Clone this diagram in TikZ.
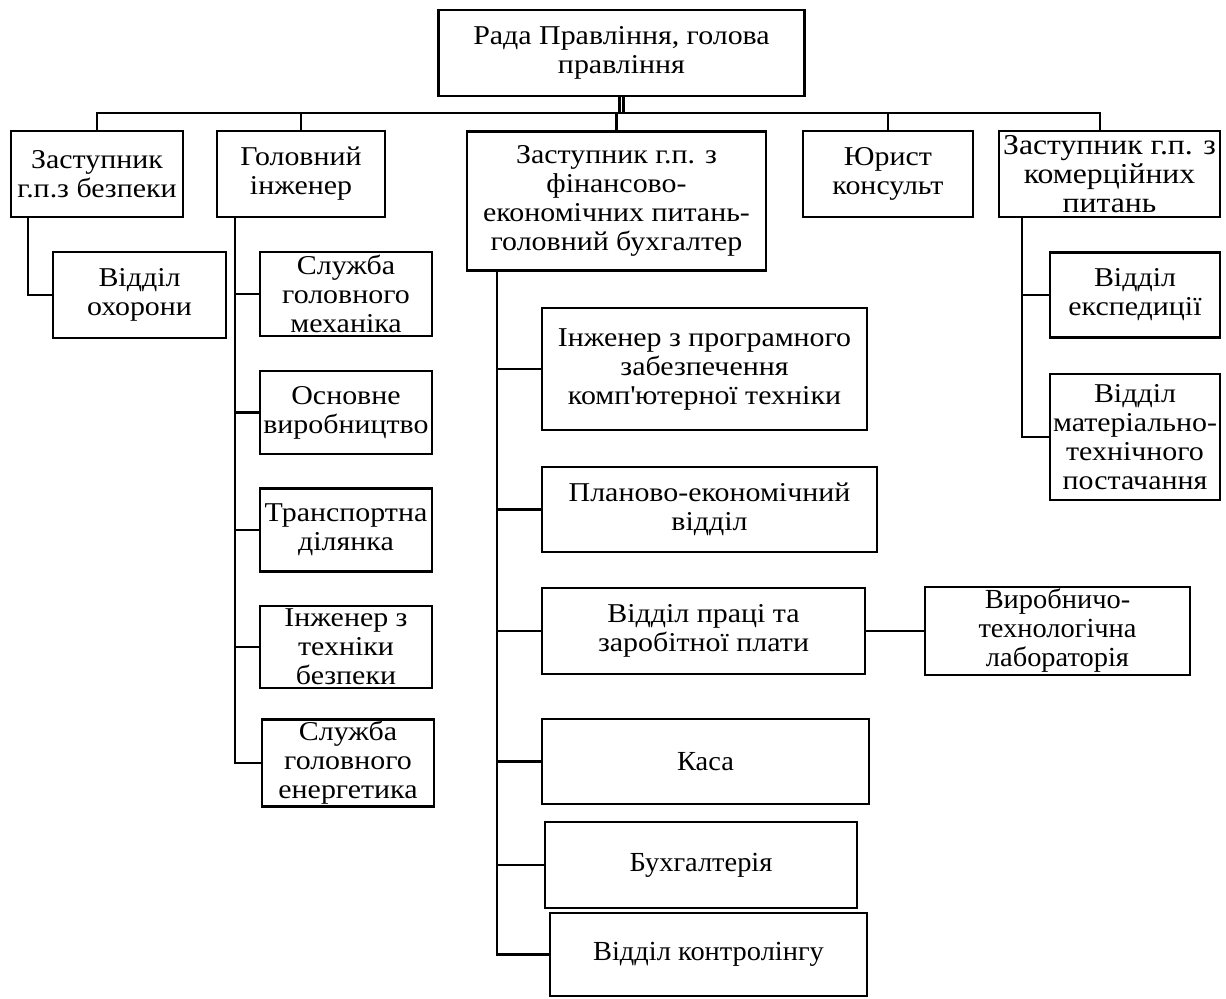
\documentclass[tikz,border=0pt]{standalone}
\usepackage{fontspec}
\setmainfont{Liberation Serif}[FakeStretch=1.1]
\newfontfamily\plainfont{Liberation Serif}[FakeStretch=1.03]
\usepackage{tikz}

\tikzset{
	box/.style={draw, line width=1.3pt, align=center, inner sep=1pt, font=\fontsize{13.6}{14.5}\selectfont},
	plainbox/.style={box, font=\plainfont\fontsize{13.8}{14.5}\selectfont},
	link/.style={line width=1.3pt}
}

\begin{document}
\begin{tikzpicture}[x=0.5pt, y=-0.5pt]
		\useasboundingbox (0,0) rectangle (1226,998);
		\node[box, minimum width=183pt, minimum height=43pt] (rada) at (621.5,53){Рада Правління, голова\\правління};
		\node[box, minimum width=86pt, minimum height=43pt] (zbez) at (97,174){Заступник\\г.п.з безпеки};
		\node[box, minimum width=84pt, minimum height=43pt] (golinzh) at (301,174){Головний\\інженер};
		\node[box, minimum width=149.5pt, minimum height=69.5pt] (zfin) at (616.5,201){Заступник г.п. з\\фінансово-\\економічних питань-\\головний бухгалтер};
		\node[box, minimum width=85pt, minimum height=43pt] (jurist) at (888,174){Юрист\\консульт};
		\node[box, minimum width=110.5pt, minimum height=43pt, font=\fontsize{14.4}{14.5}\selectfont] (zkom) at (1109.5,174){Заступник г.п. з\\комерційних\\питань};
		\node[box, minimum width=86.5pt, minimum height=43pt] (ohorona) at (139.5,295){Відділ\\охорони};
		\node[box, minimum width=86pt, minimum height=42pt] (mehanik) at (346,294){Служба\\головного\\механіка};
		\node[box, minimum width=86pt, minimum height=41.5pt] (vyrob) at (346,412.5){Основне\\виробництво};
		\node[box, minimum width=86pt, minimum height=41.5pt] (transp) at (346,530){Транспортна\\ділянка};
		\node[box, minimum width=86pt, minimum height=41pt] (tbez) at (346,647){Інженер з\\техніки\\безпеки};
		\node[box, minimum width=86pt, minimum height=41.5pt] (energ) at (348,763){Служба\\головного\\енергетика};
		\node[box, minimum width=162.5pt, minimum height=61pt] (progr) at (704.5,369){Інженер з програмного\\забезпечення\\комп\textquotesingle ютерної техніки};
		\node[box, minimum width=167.5pt, minimum height=42.5pt] (plan) at (709.5,509.5){Планово-економічний\\відділ};
		\node[box, minimum width=161.5pt, minimum height=43pt] (pratsi) at (703.5,631){Відділ праці та\\заробітної плати};
		\node[plainbox, minimum width=132.5pt, minimum height=43pt] (lab) at (1057.5,631){Виробничо-\\технологічна\\лабораторія};
		\node[plainbox, minimum width=163.5pt, minimum height=42.5pt] (kasa) at (705.5,761.5){Каса};
		\node[plainbox, minimum width=156pt, minimum height=43pt] (buh) at (701,865){Бухгалтерія};
		\node[plainbox, minimum width=158.5pt, minimum height=41.5pt] (kontr) at (708.5,954.5){Відділ контролінгу};
		\node[box, minimum width=85pt, minimum height=42.5pt] (eksp) at (1135,295){Відділ\\експедиції};
		\node[box, minimum width=85pt, minimum height=63pt] (mtp) at (1135,437){Відділ\\матеріально-\\технічного\\постачання};
		\coordinate (bus) at (0,113);
		\coordinate (dE) at (1100,0);
		\coordinate (tA) at (28,0);
		\coordinate (tB) at (235,0);
		\coordinate (tC) at (497,0);
		\coordinate (tE) at (1022,0);
		\draw[double, double distance=0.8pt, line width=1.2pt] (rada.south) -- (rada.south |- bus);
		\draw[link] (zbez.north) |- (dE |- bus) -- (dE |- zkom.north);
		\foreach \n in {golinzh,zfin,jurist}
			\draw[link] (\n.north) -- (\n.north |- bus);
		\draw[link] (zbez.south -| tA) |- (ohorona.west);
		\draw[link] (golinzh.south -| tB) |- (energ.west);
		\foreach \n in {mehanik,vyrob,transp,tbez}
			\draw[link] (tB |- \n.west) -- (\n.west);
		\draw[link] (zfin.south -| tC) |- (kontr.west);
		\foreach \n in {progr,plan,pratsi,kasa,buh}
			\draw[link] (tC |- \n.west) -- (\n.west);
		\draw[link] (pratsi.east) -- (lab.west);
		\draw[link] (zkom.south -| tE) |- (mtp.west);
		\draw[link] (tE |- eksp.west) -- (eksp.west);
		\end{tikzpicture}
\end{document}
